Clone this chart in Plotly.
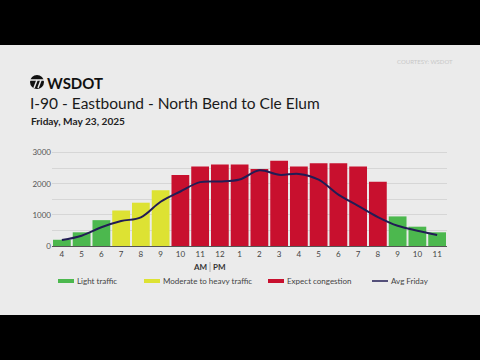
import plotly.graph_objects as go

# ---------------- data ----------------
hour_labels = ["4", "5", "6", "7", "8", "9", "10", "11", "12", "1",
               "2", "3", "4", "5", "6", "7", "8", "9", "10", "11"]
expected_volume = [200, 440, 830, 1140, 1390, 1790, 2280, 2550, 2620, 2620,
                   2470, 2740, 2550, 2660, 2660, 2550, 2060, 950, 620, 440]
traffic_level = ["light", "light", "light", "moderate", "moderate", "moderate",
                 "congestion", "congestion", "congestion", "congestion",
                 "congestion", "congestion", "congestion", "congestion",
                 "congestion", "congestion", "congestion", "light", "light", "light"]
avg_friday = [190, 330, 600, 800, 920, 1420, 1750, 2050, 2070, 2135,
              2430, 2285, 2315, 2130, 1650, 1290, 930, 650, 490, 350]
y_tick_values = [0, 1000, 2000, 3000]

level_names = {"light": "Light traffic",
               "moderate": "Moderate to heavy traffic",
               "congestion": "Expect congestion"}
level_colors = {"light": "#4cb84e", "moderate": "#dde233", "congestion": "#c8102e"}
line_color = "#221c55"

# ---------------- geometry helpers (pixel -> paper) ----------------
W, H = 480, 360
L, R, T, B = 52, 447, 151, 246


def px(x):
    return (x - L) / (R - L)


def py(y):
    return (B - y) / (B - T)


xs = list(range(len(hour_labels)))

fig = go.Figure()
for lvl in ["light", "moderate", "congestion"]:
    vals = [v if t == lvl else None for v, t in zip(expected_volume, traffic_level)]
    fig.add_trace(go.Bar(x=xs, y=vals, name=level_names[lvl],
                         marker=dict(color=level_colors[lvl], line=dict(width=0)),
                         showlegend=False, hoverinfo="skip"))

fig.add_trace(go.Scatter(x=xs, y=avg_friday, name="Avg Friday", mode="lines",
                         line=dict(color=line_color, width=2, shape="spline", smoothing=1.0),
                         showlegend=False))

shapes = []
annotations = []

# letterbox bars
shapes.append(dict(type="rect", xref="paper", yref="paper", x0=px(-5), x1=px(W + 5),
                   y0=py(45), y1=py(-5), fillcolor="black", line=dict(width=0), layer="above"))
shapes.append(dict(type="rect", xref="paper", yref="paper", x0=px(-5), x1=px(W + 5),
                   y0=py(H + 5), y1=py(315), fillcolor="black", line=dict(width=0), layer="above"))

# WSDOT logo mark
shapes.append(dict(type="circle", xref="paper", yref="paper", x0=px(30), x1=px(44),
                   y0=py(89), y1=py(75), fillcolor="#111", line=dict(width=0)))
shapes.append(dict(type="line", xref="paper", yref="paper", x0=px(30), x1=px(44),
                   y0=py(80), y1=py(80), line=dict(color="#ebebeb", width=1.5)))
shapes.append(dict(type="line", xref="paper", yref="paper", x0=px(34), x1=px(37),
                   y0=py(88), y1=py(80), line=dict(color="#ebebeb", width=1.5)))
shapes.append(dict(type="line", xref="paper", yref="paper", x0=px(38), x1=px(41),
                   y0=py(88), y1=py(80), line=dict(color="#ebebeb", width=1.5)))

annotations.append(dict(text="<b>WSDOT</b>", xref="paper", yref="paper", x=px(45), y=py(83),
                        xanchor="left", yanchor="middle", showarrow=False,
                        font=dict(family="Lato", size=15, color="#111")))
annotations.append(dict(text="I-90 - Eastbound - North Bend to Cle Elum", xref="paper", yref="paper",
                        x=px(28), y=py(103), xanchor="left", yanchor="middle", showarrow=False,
                        font=dict(family="Lato", size=15.5, color="#1a1a1a")))
annotations.append(dict(text="<b>Friday, May 23, 2025</b>", xref="paper", yref="paper",
                        x=px(29), y=py(121), xanchor="left", yanchor="middle", showarrow=False,
                        font=dict(family="Lato", size=10.1, color="#222")))
annotations.append(dict(text="COURTESY: WSDOT", xref="paper", yref="paper",
                        x=px(455), y=py(61), xanchor="right", yanchor="middle", showarrow=False,
                        font=dict(family="Lato", size=6, color="#c8c8c8")))

# AM | PM
annotations.append(dict(text="<b>AM</b>", xref="x", yref="paper", x=7.5, y=py(267),
                        xanchor="right", yanchor="middle", showarrow=False, xshift=-1,
                        font=dict(family="Lato", size=8, color="#333")))
annotations.append(dict(text="<b>PM</b>", xref="x", yref="paper", x=7.5, y=py(267),
                        xanchor="left", yanchor="middle", showarrow=False, xshift=1,
                        font=dict(family="Lato", size=8, color="#333")))
shapes.append(dict(type="line", xref="x", yref="paper", x0=7.5, x1=7.5,
                   y0=py(272), y1=py(262), line=dict(color="#999", width=0.8)))

# manual legend
legend_items = [("Light traffic", level_colors["light"], 58, 4),
                ("Moderate to heavy traffic", level_colors["moderate"], 144, 4),
                ("Expect congestion", level_colors["congestion"], 268, 4),
                ("Avg Friday", line_color, 372, 1.5)]
for name, col, x0, thick in legend_items:
    shapes.append(dict(type="line", xref="paper", yref="paper", x0=px(x0), x1=px(x0 + 16),
                       y0=py(281), y1=py(281), line=dict(color=col, width=thick)))
    annotations.append(dict(text=name, xref="paper", yref="paper", x=px(x0 + 17), y=py(281),
                            xanchor="left", yanchor="middle", showarrow=False,
                            font=dict(family="Lato", size=8, color="#444")))

fig.update_layout(
    width=W, height=H,
    margin=dict(l=L, r=W - R, t=T, b=H - B, pad=0),
    paper_bgcolor="#ebebeb", plot_bgcolor="#ebebeb",
    barmode="overlay", bargap=0.1,
    showlegend=False,
    shapes=shapes, annotations=annotations,
    xaxis=dict(range=[-0.5, len(hour_labels) - 0.5], tickvals=xs, ticktext=hour_labels,
               showgrid=False, zeroline=False, showline=True, linecolor="#555", linewidth=1,
               ticks="", tickfont=dict(family="Lato", size=8, color="#444"), fixedrange=True),
    yaxis=dict(range=[0, 3050], tickvals=y_tick_values, showgrid=True, gridcolor="#d6d6d6",
               gridwidth=1, zeroline=False, showline=False, ticks="",
               minor=dict(dtick=500, tick0=0, showgrid=True, gridcolor="#d6d6d6", gridwidth=1),
               tickfont=dict(family="Lato", size=8, color="#555"), fixedrange=True),
)

fig.write_html("out.html", config={"displayModeBar": False},
               post_script="document.body.style.margin='0';document.body.style.overflow='hidden';")
